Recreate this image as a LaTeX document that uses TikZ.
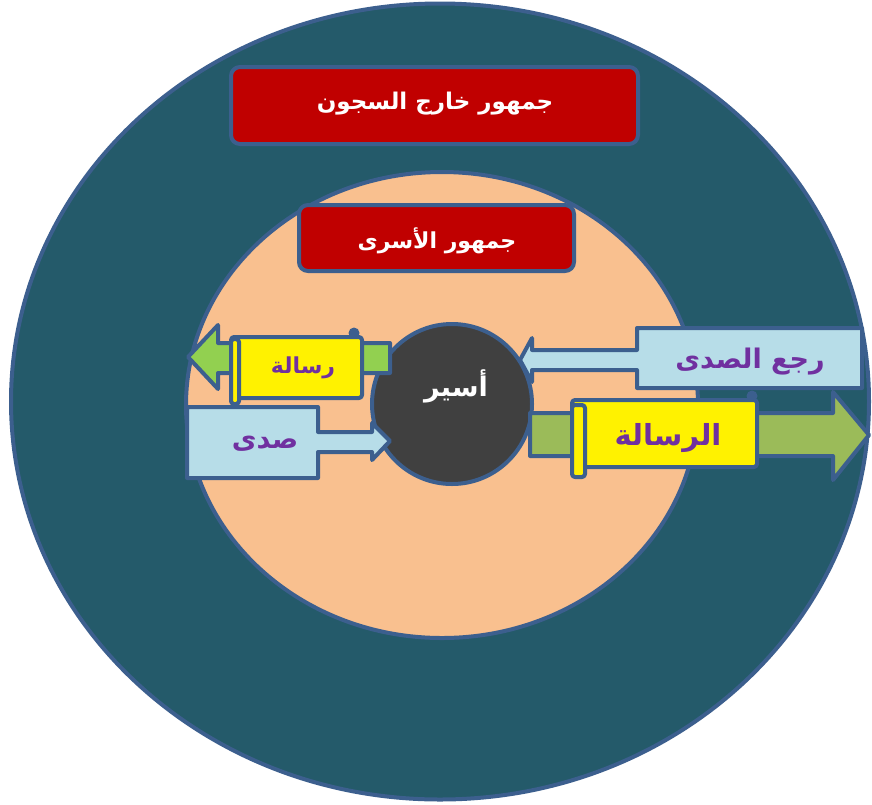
\documentclass[tikz,border=0pt]{standalone}
\usepackage{fontspec}
\TeXXeTstate=1
\newfontfamily\arabicfont[Script=Arabic]{DejaVu Sans}
\definecolor{teal}{RGB}{36,90,106}
\definecolor{peach}{RGB}{249,192,143}
\definecolor{bord}{RGB}{60,95,142}
\definecolor{dgrey}{RGB}{64,64,64}
\definecolor{dred}{RGB}{192,0,0}
\definecolor{lblue}{RGB}{183,221,232}
\definecolor{purp}{RGB}{112,48,160}
\definecolor{lgreen}{RGB}{146,208,80}
\definecolor{ogreen}{RGB}{155,187,89}
\begin{document}
\begin{tikzpicture}[x=1pt,y=-1pt,
  edge/.style={draw=bord,line width=4pt,line join=round},
  redbox/.style={edge,fill=dred,rounded corners=9pt},
  wlabel/.style={text=white,font=\arabicfont\bfseries},
  plabel/.style={text=purp,font=\arabicfont\bfseries}]
\useasboundingbox (0,0) rectangle (872,804);
% rings
\draw[edge,fill=teal] (440,401.5) ellipse [x radius=429,y radius=398];
\draw[edge,fill=peach] (442,405) ellipse [x radius=256,y radius=233];
% red boxes
\draw[redbox] (231,67) rectangle (638,144);
\node[wlabel,font=\arabicfont\bfseries\fontsize{23}{26}\selectfont] (outer) at (435,104) {\beginR جمهور خارج السجون\endR};
\draw[redbox] (299,205) rectangle (574,271);
\node[wlabel,font=\arabicfont\bfseries\fontsize{22}{25}\selectfont] (inner) at (437,241) {\beginR جمهور الأسرى\endR};
% prisoner
\draw[edge,fill=dgrey] (452,404) circle (80);
\node[wlabel,font=\arabicfont\bfseries\fontsize{27}{31}\selectfont] (pris) at (456,386) {\beginR أسير\endR};
% left green arrow
\draw[edge,fill=lgreen] (390,343) -- (218,343) -- (218,325) -- (188,357) -- (218,389) -- (218,373) -- (390,373) -- cycle;
% left scroll
\fill[bord] (354,333) circle (5.5);
\draw[edge,fill=yellow,rounded corners=3pt] (231,337) rectangle (362,398);
\draw[edge,fill=yellow,rounded corners=3pt] (231,339) rectangle (239,404);
\node[plabel,font=\arabicfont\bfseries\fontsize{22}{25}\selectfont] (msg1) at (303,368) {\beginR رسالة\endR};
% echo callout
\draw[edge,fill=lblue] (187,407) -- (318,407) -- (318,432) -- (372,432) -- (372,423) -- (390,441) -- (372,460) -- (372,452) -- (318,452) -- (318,478) -- (187,478) -- cycle;
\node[plabel,font=\arabicfont\bfseries\fontsize{27}{30}\selectfont] (echo) at (265,444) {\beginR صدى\endR};
% right green arrow
\draw[edge,fill=ogreen] (530,413) -- (833,413) -- (833,392) -- (869,435) -- (833,480) -- (833,456) -- (530,456) -- cycle;
% right scroll
\fill[bord] (752,396) circle (5.5);
\draw[edge,fill=yellow,rounded corners=3pt] (572,400) rectangle (757,467);
\draw[edge,fill=yellow,rounded corners=3pt] (572,405) rectangle (585,477);
\node[plabel,font=\arabicfont\bfseries\fontsize{29}{32}\selectfont] (msg2) at (668,438) {\beginR الرسالة\endR};
% feedback callout
\draw[edge,fill=lblue] (862,328) -- (637,328) -- (637,350) -- (532,350) -- (532,338) -- (520,360) -- (532,382) -- (532,370) -- (637,370) -- (637,388) -- (862,388) -- cycle;
\node[plabel,font=\arabicfont\bfseries\fontsize{27}{30}\selectfont] (fb) at (750,362) {\beginR رجع الصدى\endR};
\end{tikzpicture}
\end{document}
